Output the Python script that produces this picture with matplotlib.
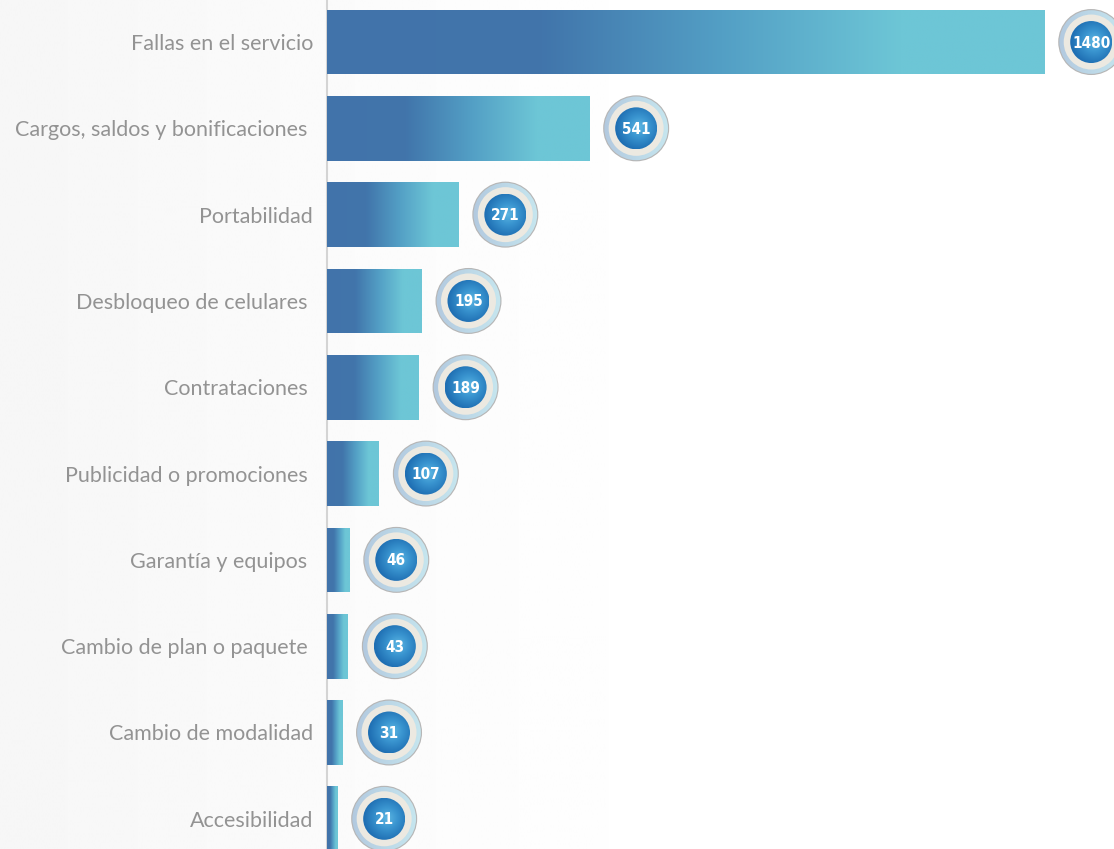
import numpy as np
import matplotlib
matplotlib.use("Agg")
import matplotlib.pyplot as plt
from matplotlib.colors import LinearSegmentedColormap
from matplotlib.patches import Circle
from matplotlib.transforms import Affine2D, ScaledTranslation

# --- data ---------------------------------------------------------------
categories = [
    "Fallas en el servicio",
    "Cargos, saldos y bonificaciones ",
    "Portabilidad",
    "Desbloqueo de celulares ",
    "Contrataciones ",
    "Publicidad o promociones ",
    "Garantía y equipos ",
    "Cambio de plan o paquete ",
    "Cambio de modalidad",
    "Accesibilidad",
]
values = [1480, 541, 271, 195, 189, 107, 46, 43, 31, 21]

# --- style --------------------------------------------------------------
W, H, DPI = 1114, 849, 100
bar_dark = "#4175ab"
bar_light = "#6dc6d6"
label_color = "#939393"

fig = plt.figure(figsize=(W / DPI, H / DPI), dpi=DPI)
fig.patch.set_facecolor("white")

# soft grey wash on the left side of the page
bg = fig.add_axes([0, 0, 1, 1], zorder=-10)
bg.set_axis_off()
xs = np.linspace(0, 1, 400)
shade = np.clip(1 - xs / 0.65, 0, 1) ** 1.2
bg_rgb = 1.0 - 0.035 * shade
bg.imshow(np.tile(bg_rgb, (2, 1)), cmap="gray", vmin=0, vmax=1,
          aspect="auto", extent=[0, 1, 0, 1], interpolation="bilinear")

x0_px = 327
ax = fig.add_axes([x0_px / W, 0, 1 - x0_px / W, 1])
ax.set_facecolor("none")

ypos = np.arange(len(categories))
bar_h = 0.75
bars = ax.barh(ypos, values, height=bar_h, color="none", edgecolor="none")

# horizontal gradient: dark on the left third, fading to cyan
grad_cmap = LinearSegmentedColormap.from_list(
    "bar", [(0.0, "#4273aa"), (0.30, bar_dark), (0.55, "#539fc5"),
            (0.80, bar_light), (1.0, bar_light)])
grad = np.linspace(0, 1, 256).reshape(1, -1)
for rect, v, y in zip(bars, values, ypos):
    im = ax.imshow(grad, cmap=grad_cmap, aspect="auto",
                   extent=[0, v, y + bar_h / 2, y - bar_h / 2],
                   interpolation="bilinear", zorder=2)
    im.set_clip_path(rect)

# category labels
ax.set_yticks(ypos)
ax.set_yticklabels(categories, fontsize=15.5, color=label_color,
                   fontfamily="Lato", fontweight="normal")
ax.tick_params(axis="y", length=0, pad=10)
ax.set_xticks([])
for s in ["top", "right", "bottom"]:
    ax.spines[s].set_visible(False)
ax.spines["left"].set_color("#d4d4d4")
ax.spines["left"].set_linewidth(1.5)
ax.spines["left"].set_zorder(1)

# value badges: ringed circles placed just past each bar end
offset_px = 47
r_outer, r_white, r_blue = 33, 27.5, 21
ring_cmap = LinearSegmentedColormap.from_list("ring", ["#b2c9df", "#c6e6ef"])
disc_cmap = LinearSegmentedColormap.from_list(
    "disc", [(0.0, "#5db6e2"), (0.45, "#3a95d0"), (1.0, "#1f6fb3")])
gx, gy = np.meshgrid(np.linspace(-1, 1, 120), np.linspace(-1, 1, 120))
radial = np.sqrt((gx - 0.15) ** 2 + (gy + 0.05) ** 2)
linear = np.tile(np.linspace(0, 1, 120), (120, 1))

for v, y in zip(values, ypos):
    place = ScaledTranslation(v, y, ax.transData)
    t_outer = Affine2D().scale(r_outer).translate(offset_px, 0) + place
    t_white = Affine2D().scale(r_white).translate(offset_px, 0) + place
    t_blue = Affine2D().scale(r_blue).translate(offset_px, 0) + place

    ax.add_patch(Circle((0, 0), 1, transform=t_outer, facecolor="#b6b6b6",
                        edgecolor="none", zorder=3, clip_on=False))
    im = ax.imshow(linear, cmap=ring_cmap, extent=[-1, 1, -1, 1],
                   transform=t_outer, zorder=3.1, interpolation="bilinear")
    im.set_clip_path(Circle((0, 0), 0.965, transform=t_outer))

    ax.add_patch(Circle((0, 0), 1, transform=t_white, facecolor="#ece9e1",
                        edgecolor="none", zorder=3.2, clip_on=False))

    im2 = ax.imshow(radial, cmap=disc_cmap, vmin=0, vmax=1.1,
                    extent=[-1, 1, -1, 1], transform=t_blue, zorder=3.4,
                    interpolation="bilinear")
    im2.set_clip_path(Circle((0, 0), 1, transform=t_blue))

    ax.text(0, 0, f"{v}", transform=Affine2D().translate(offset_px, -1) + place,
            ha="center", va="center", color="white", fontsize=11,
            fontweight="semibold", fontfamily="DejaVu Sans",
            fontstretch="condensed", zorder=4, clip_on=False)

ax.set_xlim(0, 1624)
ax.set_ylim(9.35, -0.487)

fig.savefig("out.png", dpi=DPI, facecolor=fig.get_facecolor())
